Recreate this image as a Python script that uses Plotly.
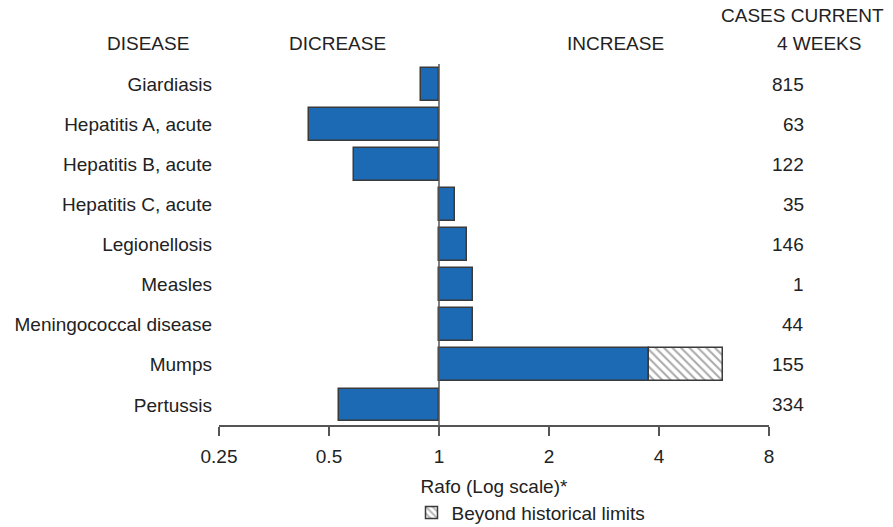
import plotly.graph_objects as go

# Ratio of current 4-week totals to historical baseline, per disease
diseases = [
    "Giardiasis",
    "Hepatitis A, acute",
    "Hepatitis B, acute",
    "Hepatitis C, acute",
    "Legionellosis",
    "Measles",
    "Meningococcal disease",
    "Mumps",
    "Pertussis",
]
ratios = [0.89, 0.44, 0.585, 1.105, 1.19, 1.24, 1.24, 6.0, 0.533]
# Upper historical limit where the ratio goes beyond it (None = within limits)
hist_limits = [None, None, None, None, None, None, None, 3.76, None]
cases_current = [815, 63, 122, 35, 146, 1, 44, 155, 334]

tick_vals = [0.25, 0.5, 1, 2, 4, 8]
tick_text = ["0.25", "0.5", "1", "2", "4", "8"]

BLUE = "#1c6ab3"
EDGE = "#3a3a3a"
FONT = "Liberation Sans, Arial, Helvetica, sans-serif"
FS = 19

# Blue portion: from 1 to the ratio, or to the historical limit if exceeded
blue_end = [lim if lim is not None else r for r, lim in zip(ratios, hist_limits)]
blue_len = [e - 1 for e in blue_end]

# Hatched portion: from the historical limit to the ratio
hatch_base = [lim if lim is not None else 1 for lim in hist_limits]
hatch_len = [(r - lim) if lim is not None else 0 for r, lim in zip(ratios, hist_limits)]

fig = go.Figure()
fig.add_trace(go.Bar(
    y=diseases, x=blue_len, base=[1] * len(diseases), orientation="h",
    marker=dict(color=BLUE, line=dict(color=EDGE, width=1.5)),
    width=0.82, showlegend=False, hoverinfo="skip",
))
fig.add_trace(go.Bar(
    y=[d for d, lim in zip(diseases, hist_limits) if lim is not None],
    x=[h for h, lim in zip(hatch_len, hist_limits) if lim is not None],
    base=[b for b, lim in zip(hatch_base, hist_limits) if lim is not None],
    orientation="h",
    marker=dict(
        color="white",
        line=dict(color=EDGE, width=1.5),
        pattern=dict(shape="\\", fgcolor="#555555", bgcolor="white",
                     size=6, solidity=0.35),
    ),
    width=0.82, name="Beyond historical limits", showlegend=True,
    hoverinfo="skip",
))

# Reference line at ratio = 1
fig.add_shape(type="line", xref="x", yref="paper", x0=1, x1=1, y0=0, y1=1,
              line=dict(color="#555555", width=1.5), layer="above")

annotations = []
# Case counts on the right
for d, c in zip(diseases, cases_current):
    annotations.append(dict(
        x=1.068, xref="paper", y=d, yref="y", text=str(c),
        showarrow=False, xanchor="right", yanchor="middle",
        font=dict(family=FONT, size=FS, color="#222222"),
    ))
# Column headers
headers = [
    ("DISEASE", -0.129, 1.058, "center"),
    ("DICREASE", 0.216, 1.058, "center"),
    ("INCREASE", 0.72, 1.058, "center"),
    ("CASES CURRENT", 1.213, 1.133, "right"),
    ("4 WEEKS", 1.09, 1.058, "center"),
]
for txt, x, y, anc in headers:
    annotations.append(dict(
        x=x, xref="paper", y=y, yref="paper", text=txt, showarrow=False,
        xanchor=anc, yanchor="middle",
        font=dict(family=FONT, size=FS, color="#222222"),
    ))

fig.update_layout(
    width=893, height=527,
    margin=dict(l=219, r=124, t=64, b=102, autoexpand=False),
    paper_bgcolor="white", plot_bgcolor="white",
    barmode="overlay",
    bargap=0,
    font=dict(family=FONT, size=FS, color="#222222"),
    annotations=annotations,
    showlegend=True,
    legend=dict(
        x=0.35, y=-0.19, xanchor="left", yanchor="top",
        orientation="h", bgcolor="rgba(0,0,0,0)",
        font=dict(family=FONT, size=FS, color="#222222"),
        itemwidth=30,
    ),
    xaxis=dict(
        type="log",
        range=[-0.60206, 0.90309],
        tickvals=tick_vals, ticktext=tick_text,
        showgrid=False, zeroline=False, automargin=False,
        showline=True, linecolor="#555555", linewidth=1.5,
        ticks="outside", ticklen=9, tickwidth=1.5, tickcolor="#555555",
        ticklabelstandoff=4,
        tickfont=dict(family=FONT, size=FS, color="#222222"),
        title=dict(text="Rafo (Log scale)*", standoff=14,
                   font=dict(family=FONT, size=FS, color="#222222")),
    ),
    yaxis=dict(
        type="category",
        categoryorder="array", categoryarray=diseases,
        autorange="reversed", automargin=False,
        showgrid=False, zeroline=False, showline=False,
        ticks="", ticklabelstandoff=6,
        tickfont=dict(family=FONT, size=FS, color="#222222"),
    ),
)

fig.write_html("out.html")
